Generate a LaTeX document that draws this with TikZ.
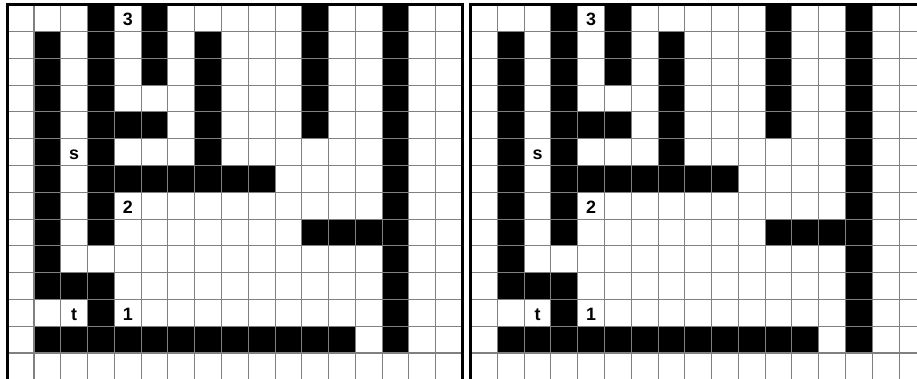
\documentclass[tikz,border=0pt]{standalone}
\usepackage{fontspec}
\setsansfont{Liberation Sans}
\usepackage{xcolor}
\usepackage{tikz}
\definecolor{gridgray}{HTML}{808080}
\tikzset{
  wall/.style={fill=black},
  gridline/.style={draw=gridgray,line width=0.55pt,step=1},
  frame/.style={draw=black,line width=1.6pt},
  celltag/.style={font=\sffamily\bfseries\fontsize{9.5}{9.5}\selectfont,
                  inner sep=0pt,anchor=base},
}

\begin{document}
\begin{tikzpicture}[x=0.5cm,y=0.5cm]
  \useasboundingbox (-0.269,0.18) rectangle (33.97,-13.935);
  \clip (-0.269,0.18) rectangle (33.97,-13.935);
  \foreach \ox/\side in {0/L,17.3/R}{
    \begin{scope}[shift={(\ox,0)}]
      \foreach \ca/\ra/\cb/\rb in {
        3/0/3/8, 3/10/3/12, 5/0/5/2, 3/4/5/4, 11/0/11/4, 14/0/14/12,
        1/1/1/10, 1/12/12/12, 7/1/7/6, 3/6/9/6, 11/8/14/8, 1/10/3/10
      }{
        \fill[wall](\ca,-\ra)rectangle(\cb+1,-\rb-1);
      }
      \draw[gridline](0,0)grid(17,-14);
      \draw[frame](0,-14)--(0,0)--(17,0)--(17,-14);
      \foreach \c/\r/\lbl in {4/0/3,2/5/s,4/7/2,2/11/t,4/11/1}{
        \node[celltag](\side-\lbl)at(\c+0.5,-\r-0.785){\lbl};
      }
    \end{scope}
  }
\end{tikzpicture}
\end{document}
